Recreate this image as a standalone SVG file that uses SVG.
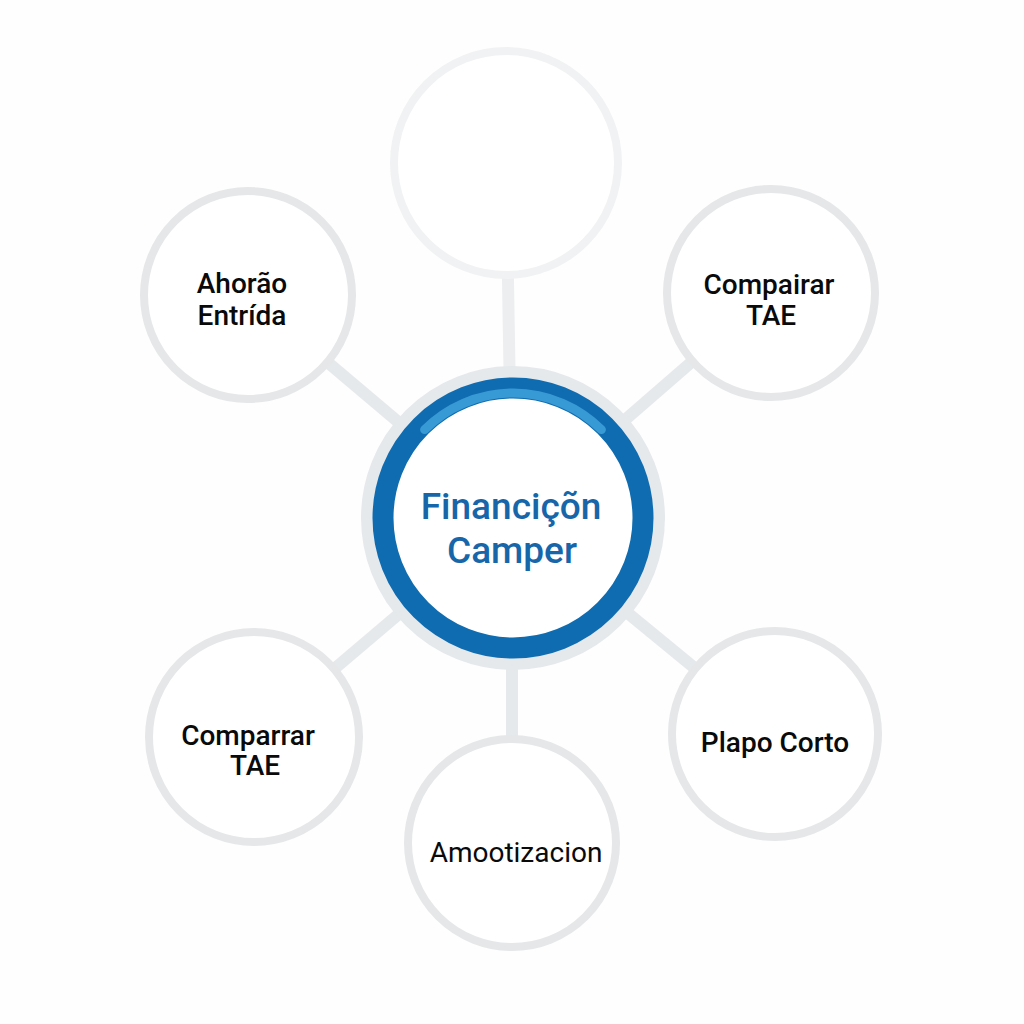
<svg xmlns="http://www.w3.org/2000/svg" width="1024" height="1024" viewBox="0 0 1024 1024">
<defs>
<style>
.conn{stroke:#e6e9eb;stroke-width:12;stroke-linecap:butt;fill:none}
.sat{fill:#ffffff;stroke:#e5e7e9;stroke-width:8}
.lbl{font-family:Roboto,"Liberation Sans",Arial,sans-serif;font-weight:500;font-size:28px;fill:#0a0a0a;text-anchor:middle}
.ctr{font-family:Roboto,"Liberation Sans",Arial,sans-serif;font-weight:500;font-size:37px;fill:#1766aa;text-anchor:middle}
</style>
</defs>
<rect width="1024" height="1024" fill="#fefefe"/>
<g id="connectors">
<line class="conn" x1="512" y1="518" x2="506" y2="163" style="stroke:#eceef0"/>
<line class="conn" x1="512" y1="518" x2="248" y2="295"/>
<line class="conn" x1="512" y1="518" x2="771" y2="293"/>
<line class="conn" x1="512" y1="518" x2="254" y2="737"/>
<line class="conn" x1="512" y1="518" x2="512" y2="843"/>
<line class="conn" x1="512" y1="518" x2="775" y2="734"/>
</g>
<g id="node-top">
<circle class="sat" cx="506" cy="163" r="112" style="stroke:#f1f2f3"/>
</g>
<g id="node-ahorro">
<circle class="sat" cx="248" cy="295" r="104"/>
<text class="lbl" x="242" y="293">Ahorão</text>
<text class="lbl" x="242" y="325">Entrída</text>
</g>
<g id="node-comparar-tr">
<circle class="sat" cx="771" cy="293" r="104"/>
<text class="lbl" x="769" y="294">Compairar</text>
<text class="lbl" x="771" y="325">TAE</text>
</g>
<g id="node-comparar-bl">
<circle class="sat" cx="254" cy="737" r="105"/>
<text class="lbl" x="248" y="745">Comparrar</text>
<text class="lbl" x="255" y="775">TAE</text>
</g>
<g id="node-amortizacion">
<circle class="sat" cx="512" cy="843" r="104"/>
<text class="lbl" x="516" y="862" style="font-weight:400">Amootizacion</text>
</g>
<g id="node-plazo">
<circle class="sat" cx="775" cy="734" r="103"/>
<text class="lbl" x="775" y="752">Plapo Corto</text>
</g>
<g id="node-center">
<circle cx="513" cy="518" r="146" fill="#ffffff" stroke="#e6e9ec" stroke-width="12"/>
<circle cx="513" cy="518" r="130" fill="#ffffff" stroke="#0f6cb0" stroke-width="21"/>
<path d="M 424.6 429.6 A 125 125 0 0 1 601.4 429.6" fill="none" stroke="#3fa2da" stroke-width="9" stroke-linecap="round" opacity="0.85"/>
<text class="ctr" x="511" y="519">Financiçõn</text>
<text class="ctr" x="512" y="563">Camper</text>
</g>
</svg>
